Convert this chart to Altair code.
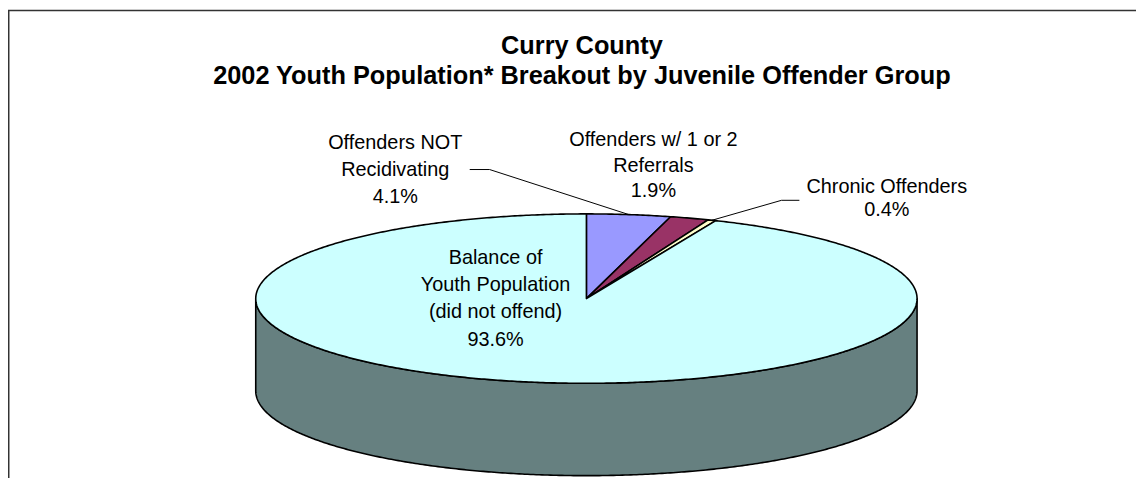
import numpy as np
import pandas as pd
import altair as alt

# ---------------- data ----------------
categories = [
    "Offenders NOT Recidivating",
    "Offenders w/ 1 or 2 Referrals",
    "Chronic Offenders",
    "Balance of Youth Population (did not offend)",
]
percents = [4.1, 1.9, 0.4, 93.6]
label_lines = [
    ["Offenders NOT", "Recidivating"],
    ["Offenders w/ 1 or 2", "Referrals"],
    ["Chronic Offenders"],
    ["Balance of", "Youth Population", "(did not offend)"],
]
title_lines = [
    "Curry County",
    "2002 Youth Population* Breakout by Juvenile Offender Group",
]
top_colors = ["#9999FF", "#993366", "#FFFFCC", "#CCFFFF"]
side_colors = ["#4D4D80", "#4D1A33", "#808066", "#668080"]

# ---------------- layout (page pixels) ----------------
W, H = 1136, 470
OX, OY = 8, 8
CX, CY, RX, RY, DEPTH = 590.5, 299.0, 333.0, 85.3, 93.0
label_pos = {0: (398, 142, 27.5), 1: (658, 139, 26), 2: (893, 187, 23), 3: (499, 258, 27.5)}
leader_start = {0: [(473, 169), (493, 169)], 2: [(805, 200), (787, 200)]}
title_pos = [(586, 45), (586, 75)]


def pt(theta, drop=0.0):
    t = np.radians(theta)
    return CX + RX * np.sin(t) - OX, CY - RY * np.cos(t) + drop - OY


cum = np.concatenate([[0], np.cumsum(percents)]) / sum(percents) * 360.0

tops, walls = [], []
for i, cat in enumerate(categories):
    s, e = cum[i], cum[i + 1]
    n = max(3, int((e - s) / 0.5) + 2)
    k = 0
    tops.append(dict(slice=cat, k=k, x=CX - OX, y=CY - OY, fill=top_colors[i])); k += 1
    for th in np.linspace(s, e, n):
        x, y = pt(th)
        tops.append(dict(slice=cat, k=k, x=x, y=y, fill=top_colors[i])); k += 1
    a, b = max(s, 90.0), min(e, 270.0)
    if b > a:
        m = max(3, int((b - a) / 0.5) + 2)
        k = 0
        for th in np.linspace(a, b, m):
            x, y = pt(th)
            walls.append(dict(slice=cat, k=k, x=x, y=y, fill=side_colors[i])); k += 1
        for th in np.linspace(b, a, m):
            x, y = pt(th, DEPTH)
            walls.append(dict(slice=cat, k=k, x=x, y=y, fill=side_colors[i])); k += 1

tops_df = pd.DataFrame(tops)
walls_df = pd.DataFrame(walls)

texts = []
for i, lines in enumerate(label_lines):
    cx, y0, dy = label_pos[i]
    allines = lines + [f"{percents[i]:.1f}%"]
    for j, t in enumerate(allines):
        texts.append(dict(text=t, x=cx - OX, y=y0 + j * dy - OY))
text_df = pd.DataFrame(texts)

title_df = pd.DataFrame([dict(text=t, x=p[0] - OX, y=p[1] - OY) for t, p in zip(title_lines, title_pos)])

leaders = []
for i, pts in leader_start.items():
    mid = (cum[i] + cum[i + 1]) / 2
    k = 0
    for (px, py) in pts:
        leaders.append(dict(slice=categories[i], k=k, x=px - OX, y=py - OY)); k += 1
    x, y = pt(mid)
    leaders.append(dict(slice=categories[i], k=k, x=x, y=y))
lead_df = pd.DataFrame(leaders)

frame_df = pd.DataFrame([
    dict(seg="top", k=0, x=0.75, y=H + 5),
    dict(seg="top", k=1, x=0.75, y=0.75),
    dict(seg="top", k=2, x=W + 5, y=0.75),
])

xs = alt.Scale(domain=[0, W], nice=False, zero=False)
ys = alt.Scale(domain=[0, H], nice=False, zero=False, reverse=True)
X = alt.X("x:Q", scale=xs, axis=None)
Y = alt.Y("y:Q", scale=ys, axis=None)

wall = alt.Chart(walls_df).mark_line(
    stroke="black", strokeWidth=1.6, interpolate="linear-closed", strokeJoin="round"
).encode(x=X, y=Y, order="k:Q", detail="slice:N", fill=alt.Fill("fill:N", scale=None))

top = alt.Chart(tops_df).mark_line(
    stroke="black", strokeWidth=1.6, interpolate="linear-closed", strokeJoin="round"
).encode(x=X, y=Y, order="k:Q", detail="slice:N", fill=alt.Fill("fill:N", scale=None))

lead = alt.Chart(lead_df).mark_line(stroke="black", strokeWidth=1).encode(
    x=X, y=Y, order="k:Q", detail="slice:N"
)

frame = alt.Chart(frame_df).mark_line(stroke="#333333", strokeWidth=1.5).encode(
    x=X, y=Y, order="k:Q", detail="seg:N"
)

labels = alt.Chart(text_df).mark_text(
    font="Liberation Sans", fontSize=20, align="center", baseline="middle", color="black"
).encode(x=X, y=Y, text="text:N")

titles = alt.Chart(title_df).mark_text(
    font="Liberation Sans", fontSize=25.5, fontWeight="bold", align="center", baseline="middle", color="black"
).encode(x=X, y=Y, text="text:N")

chart = alt.layer(frame, wall, top, lead, labels, titles).properties(
    width=W, height=H, autosize=alt.AutoSizeParams(type="none"), padding=0
).configure_view(stroke=None)

chart.save("out.html", embed_options={"renderer": "svg", "actions": False})
